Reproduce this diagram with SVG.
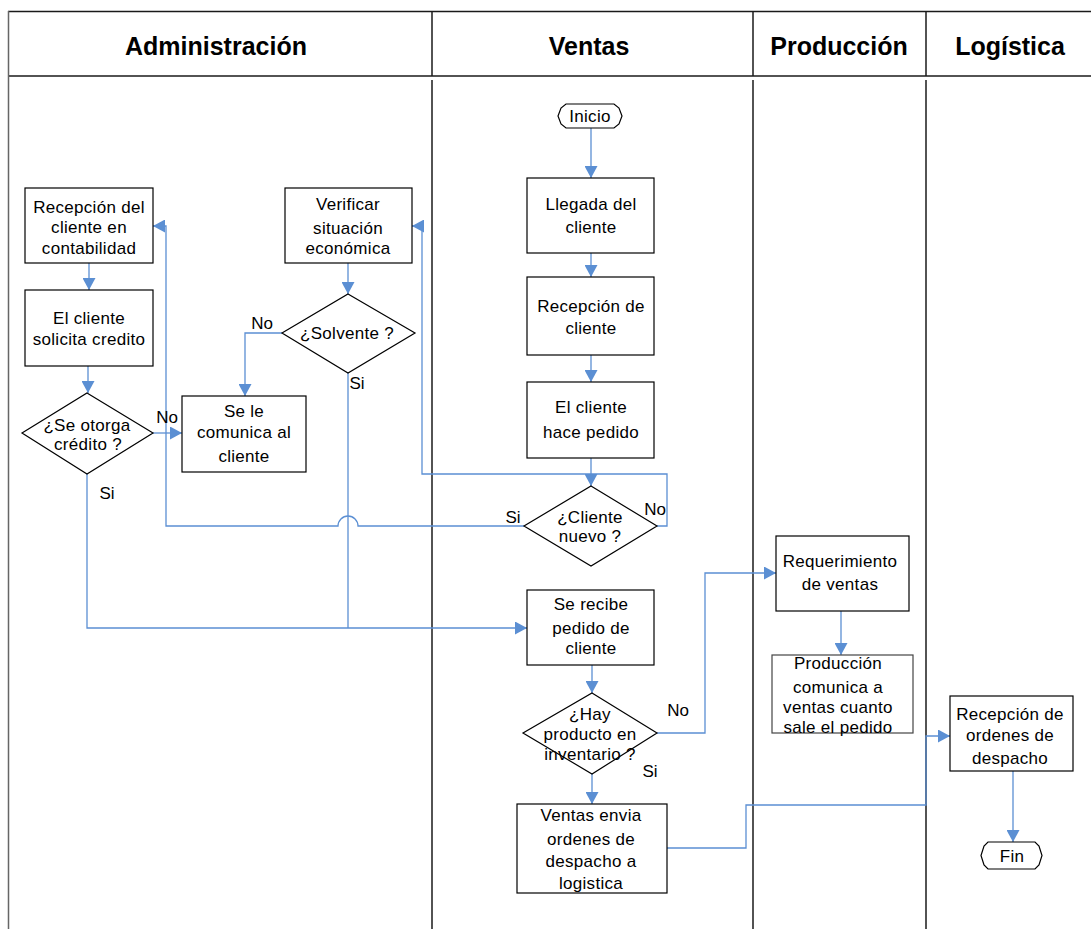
<svg xmlns="http://www.w3.org/2000/svg" width="1091" height="929" viewBox="0 0 1091 929">
<style>
.hd{font-family:"Liberation Sans",Arial,sans-serif;font-weight:bold;font-size:25px;fill:#000;text-anchor:middle}
.t{font-family:"Liberation Sans",Arial,sans-serif;font-size:17px;letter-spacing:0.3px;fill:#000;text-anchor:middle}
.lb{font-family:"Liberation Sans",Arial,sans-serif;font-size:17px;fill:#000;text-anchor:middle}
.box{fill:#fff;stroke:#000;stroke-width:1.2}
.lane{stroke:#1a1a1a;stroke-width:1.5;fill:none}
.c{fill:none;stroke:#5b8fd3;stroke-width:1.3}
</style>
<defs>
<marker id="arr" markerWidth="13" markerHeight="13" refX="12" refY="6.5" orient="auto" markerUnits="userSpaceOnUse">
<path d="M0,0 L12,6.5 L0,13 Z" fill="#5b8fd3"/>
</marker>
</defs>
<rect x="0" y="0" width="1091" height="929" fill="#fff"/>
<g id="lanes">
<line class="lane" x1="8" y1="11.5" x2="1091" y2="11.5"/>
<line class="lane" x1="8" y1="76" x2="1091" y2="76"/>
<line x1="8.5" y1="11" x2="8.5" y2="929" stroke="#666" stroke-width="1.5"/>
<line class="lane" x1="432" y1="11" x2="432" y2="76"/>
<line class="lane" x1="753" y1="11" x2="753" y2="76"/>
<line class="lane" x1="926" y1="11" x2="926" y2="76"/>
<line class="lane" x1="432" y1="80" x2="432" y2="929"/>
<line class="lane" x1="753" y1="80" x2="753" y2="929"/>
<line class="lane" x1="926" y1="80" x2="926" y2="929"/>
<text class="hd" x="216" y="55">Administración</text>
<text class="hd" x="589" y="55">Ventas</text>
<text class="hd" x="839" y="55">Producción</text>
<text class="hd" x="1010" y="55">Logística</text>
</g>
<g id="connectors">
<path class="c" d="M591,128 V178" marker-end="url(#arr)"/>
<path class="c" d="M591,253 V277" marker-end="url(#arr)"/>
<path class="c" d="M591,355 V382" marker-end="url(#arr)"/>
<path class="c" d="M591,458 V486" marker-end="url(#arr)"/>
<path class="c" d="M657,526 H667 V474 H422 V226 H412" marker-end="url(#arr)"/>
<path class="c" d="M524,526 H358 A10,10 0 0 0 338,526 H166 V226 H153" marker-end="url(#arr)"/>
<path class="c" d="M89,263 V290" marker-end="url(#arr)"/>
<path class="c" d="M88,366 V393" marker-end="url(#arr)"/>
<path class="c" d="M153,433 H182" marker-end="url(#arr)"/>
<path class="c" d="M87,474 V628 H527" marker-end="url(#arr)"/>
<path class="c" d="M348,263 V294" marker-end="url(#arr)"/>
<path class="c" d="M282,333 H245 V396" marker-end="url(#arr)"/>
<path class="c" d="M348,373 V628"/>
<path class="c" d="M592,665 V693" marker-end="url(#arr)"/>
<path class="c" d="M592,774 V804" marker-end="url(#arr)"/>
<path class="c" d="M657,733 H705 V573 H776" marker-end="url(#arr)"/>
<path class="c" d="M667,848 H746 V805 H926 V736 H950" marker-end="url(#arr)"/>
<path class="c" d="M841,611 V655" marker-end="url(#arr)"/>
<path class="c" d="M1013,771 V842" marker-end="url(#arr)"/>
<text class="lb" x="167" y="423">No</text>
<text class="lb" x="107" y="499">Si</text>
<text class="lb" x="262" y="329">No</text>
<text class="lb" x="357" y="389">Si</text>
<text class="lb" x="513" y="523">Si</text>
<text class="lb" x="655" y="515">No</text>
<text class="lb" x="678" y="716">No</text>
<text class="lb" x="650" y="777">Si</text>
</g>
<g id="inicio">
<path class="box" d="M566,104 H614 L619,108 L622,116 L619,124 L614,128 H566 L561,124 L558,116 L561,108 Z"/>
<text class="t" x="590" y="122">Inicio</text>
</g>
<g id="llegada">
<rect class="box" x="527" y="178" width="127" height="75"/>
<text class="t" x="591" y="210">Llegada del</text>
<text class="t" x="591" y="233">cliente</text>
</g>
<g id="recepcion">
<rect class="box" x="527" y="277" width="127" height="78"/>
<text class="t" x="591" y="312">Recepción de</text>
<text class="t" x="591" y="334">cliente</text>
</g>
<g id="pedido">
<rect class="box" x="527" y="382" width="127" height="76"/>
<text class="t" x="591" y="413">El cliente</text>
<text class="t" x="591" y="438">hace pedido</text>
</g>
<g id="clientenuevo">
<path class="box" d="M591,486 L657,526 L591,566 L524,526 Z"/>
<text class="t" x="590" y="523">¿Cliente</text>
<text class="t" x="590" y="542">nuevo ?</text>
</g>
<g id="serecibe">
<rect class="box" x="527" y="590" width="127" height="75"/>
<text class="t" x="591" y="610">Se recibe</text>
<text class="t" x="591" y="634">pedido de</text>
<text class="t" x="591" y="654">cliente</text>
</g>
<g id="hayproducto">
<path class="box" d="M592,693 L657,733 L592,774 L523,733 Z"/>
<text class="t" x="590" y="720">¿Hay</text>
<text class="t" x="590" y="740">producto en</text>
<text class="t" x="590" y="760">inventario ?</text>
</g>
<g id="ventasenvia">
<rect class="box" x="517" y="804" width="150" height="89"/>
<text class="t" x="591" y="821">Ventas envia</text>
<text class="t" x="591" y="845">ordenes de</text>
<text class="t" x="591" y="867">despacho a</text>
<text class="t" x="591" y="889">logistica</text>
</g>
<g id="recepcioncontab">
<rect class="box" x="25" y="188" width="128" height="75"/>
<text class="t" x="89" y="213">Recepción del</text>
<text class="t" x="89" y="233">cliente en</text>
<text class="t" x="89" y="254">contabilidad</text>
</g>
<g id="solicita">
<rect class="box" x="25" y="290" width="128" height="76"/>
<text class="t" x="89" y="324">El cliente</text>
<text class="t" x="89" y="345">solicita credito</text>
</g>
<g id="otorga">
<path class="box" d="M87,393 L153,433 L87,474 L22,433 Z"/>
<text class="t" x="87" y="431">¿Se otorga</text>
<text class="t" x="88" y="450">crédito ?</text>
</g>
<g id="comunica">
<rect class="box" x="182" y="396" width="124" height="76"/>
<text class="t" x="244" y="417">Se le</text>
<text class="t" x="244" y="438">comunica al</text>
<text class="t" x="244" y="462">cliente</text>
</g>
<g id="verificar">
<rect class="box" x="285" y="188" width="127" height="75"/>
<text class="t" x="348" y="210">Verificar</text>
<text class="t" x="348" y="234">situación</text>
<text class="t" x="348" y="254">económica</text>
</g>
<g id="solvente">
<path class="box" d="M348,294 L415,333 L348,373 L282,333 Z"/>
<text class="t" x="347" y="339">¿Solvente ?</text>
</g>
<g id="requerimiento">
<rect class="box" x="776" y="536" width="133" height="75"/>
<text class="t" x="840" y="567">Requerimiento</text>
<text class="t" x="840" y="590">de ventas</text>
</g>
<g id="produccion">
<rect class="box" x="772" y="655" width="141" height="78" style="stroke:#444"/>
<text class="t" x="838" y="669">Producción</text>
<text class="t" x="838" y="693">comunica a</text>
<text class="t" x="838" y="713">ventas cuanto</text>
<text class="t" x="838" y="733">sale el pedido</text>
</g>
<g id="recepcionordenes">
<rect class="box" x="950" y="696" width="123" height="75"/>
<text class="t" x="1010" y="720">Recepción de</text>
<text class="t" x="1010" y="741">ordenes de</text>
<text class="t" x="1010" y="764">despacho</text>
</g>
<g id="fin">
<path class="box" d="M988,842 H1035 L1039,846 L1042,855.5 L1039,865 L1035,869 H988 L984,865 L981,855.5 L984,846 Z"/>
<text class="t" x="1012" y="862">Fin</text>
</g>
</svg>
